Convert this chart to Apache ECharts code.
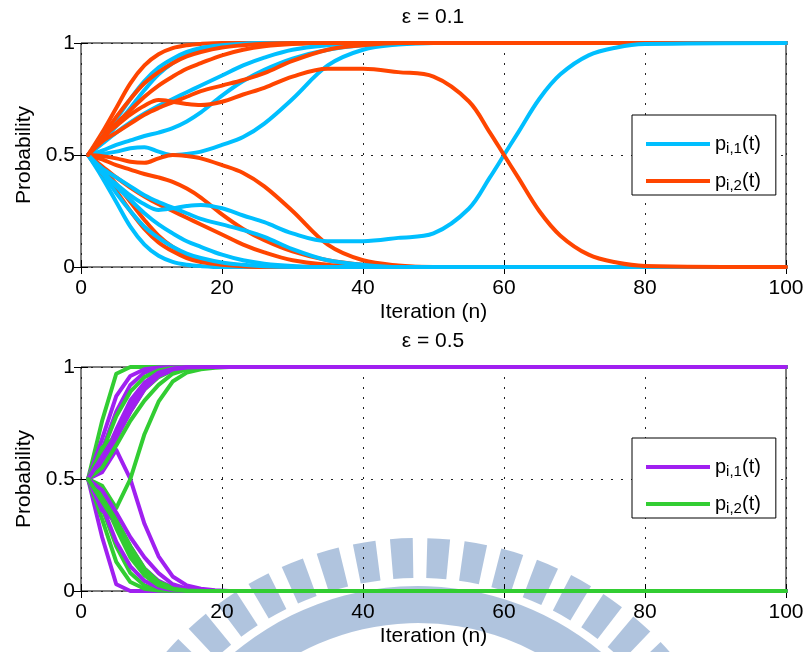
<!DOCTYPE html>
<html>
<head>
<meta charset="utf-8">
<script src="https://cdn.jsdelivr.net/npm/echarts@6/dist/echarts.min.js"></script>
<style>
html, body { margin: 0; padding: 0; background: #fff; }
#chart { width: 808px; height: 652px; }
</style>
</head>
<body>
<div id="chart"></div>
<script>
// ---- ε = 0.1 : iteration samples and per-user channel probabilities ----
const iterTop = [1, 3, 5, 7, 9, 11, 13, 15, 17, 20, 23, 26, 30, 35, 40, 45, 50, 55, 58, 60, 62, 65, 68, 72, 76, 80, 100];

const t1_p1 = [0.5,0.4,0.29,0.18,0.1,0.05,0.023,0.01,0.004,0,0,0,0,0,0,0,0,0,0,0,0,0,0,0,0,0,0];
const t1_p2 = [0.5,0.6,0.71,0.82,0.9,0.95,0.977,0.99,0.996,1,1,1,1,1,1,1,1,1,1,1,1,1,1,1,1,1,1];
const t2_p1 = [0.5,0.58,0.66,0.75,0.83,0.89,0.93,0.96,0.978,0.99,0.997,1,1,1,1,1,1,1,1,1,1,1,1,1,1,1,1];
const t2_p2 = [0.5,0.42,0.34,0.25,0.17,0.11,0.07,0.04,0.022,0.01,0.003,0,0,0,0,0,0,0,0,0,0,0,0,0,0,0,0];
const t3_p1 = [0.5,0.56,0.63,0.71,0.79,0.86,0.91,0.945,0.965,0.985,0.995,1,1,1,1,1,1,1,1,1,1,1,1,1,1,1,1];
const t3_p2 = [0.5,0.44,0.37,0.29,0.21,0.14,0.09,0.055,0.035,0.015,0.005,0,0,0,0,0,0,0,0,0,0,0,0,0,0,0,0];
const t4_p1 = [0.5,0.43,0.36,0.3,0.24,0.19,0.15,0.115,0.09,0.055,0.03,0.015,0.005,0,0,0,0,0,0,0,0,0,0,0,0,0,0];
const t4_p2 = [0.5,0.57,0.64,0.7,0.76,0.81,0.85,0.885,0.91,0.945,0.97,0.985,0.995,1,1,1,1,1,1,1,1,1,1,1,1,1,1];
const t5_p1 = [0.5,0.55,0.6,0.645,0.685,0.72,0.75,0.78,0.81,0.855,0.9,0.935,0.97,0.99,1,1,1,1,1,1,1,1,1,1,1,1,1];
const t5_p2 = [0.5,0.45,0.4,0.355,0.315,0.28,0.25,0.22,0.19,0.145,0.1,0.065,0.03,0.01,0,0,0,0,0,0,0,0,0,0,0,0,0];
const t6_p1 = [0.5,0.52,0.545,0.565,0.585,0.6,0.62,0.65,0.69,0.765,0.83,0.88,0.93,0.97,0.99,0.998,1,1,1,1,1,1,1,1,1,1,1];
const t6_p2 = [0.5,0.48,0.455,0.435,0.415,0.4,0.38,0.35,0.31,0.235,0.17,0.12,0.07,0.03,0.01,0.002,0,0,0,0,0,0,0,0,0,0,0];
const t7_p1 = [0.5,0.505,0.515,0.53,0.535,0.515,0.5,0.505,0.515,0.545,0.58,0.64,0.75,0.9,0.97,0.993,1,1,1,1,1,1,1,1,1,1,1];
const t7_p2 = [0.5,0.495,0.485,0.47,0.465,0.485,0.5,0.495,0.485,0.455,0.42,0.36,0.25,0.1,0.03,0.007,0,0,0,0,0,0,0,0,0,0,0];
const t8_p1 = [0.5,0.42,0.33,0.25,0.18,0.13,0.09,0.06,0.04,0.02,0.01,0.003,0,0,0,0,0,0,0,0,0,0,0,0,0,0,0];
const t8_p2 = [0.5,0.58,0.67,0.75,0.82,0.87,0.91,0.94,0.96,0.98,0.99,0.997,1,1,1,1,1,1,1,1,1,1,1,1,1,1,1];
const t9_p1 = [0.5,0.44,0.4,0.36,0.32,0.29,0.265,0.24,0.215,0.19,0.165,0.135,0.08,0.03,0.01,0,0,0,0,0,0,0,0,0,0,0,0];
const t9_p2 = [0.5,0.56,0.6,0.64,0.68,0.71,0.735,0.76,0.785,0.81,0.835,0.865,0.92,0.97,0.99,1,1,1,1,1,1,1,1,1,1,1,1];
const t10_p1 = [0.5,0.42,0.37,0.32,0.28,0.255,0.262,0.272,0.277,0.262,0.23,0.2,0.15,0.115,0.115,0.13,0.15,0.26,0.4,0.5,0.6,0.75,0.86,0.945,0.98,0.995,1];
const t10_p2 = [0.5,0.58,0.63,0.68,0.72,0.745,0.738,0.728,0.723,0.738,0.77,0.8,0.85,0.885,0.885,0.87,0.85,0.74,0.6,0.5,0.4,0.25,0.14,0.055,0.02,0.005,0];

// ---- ε = 0.5 ----
const iterBot = [1, 3, 5, 7, 9, 11, 13, 15, 17, 19, 21, 100];

const b1_p1 = [0.5,0.24,0.03,0,0,0,0,0,0,0,0,0];
const b1_p2 = [0.5,0.76,0.97,1,1,1,1,1,1,1,1,1];
const b2_p1 = [0.5,0.68,0.87,0.96,0.99,0.998,1,1,1,1,1,1];
const b2_p2 = [0.5,0.32,0.13,0.04,0.01,0.002,0,0,0,0,0,0];
const b3_p1 = [0.5,0.63,0.8,0.92,0.975,0.993,1,1,1,1,1,1];
const b3_p2 = [0.5,0.37,0.2,0.08,0.025,0.007,0,0,0,0,0,0];
const b4_p1 = [0.5,0.38,0.22,0.11,0.045,0.015,0.003,0,0,0,0,0];
const b4_p2 = [0.5,0.62,0.78,0.89,0.955,0.985,0.997,1,1,1,1,1];
const b5_p1 = [0.5,0.58,0.72,0.85,0.93,0.975,0.993,1,1,1,1,1];
const b5_p2 = [0.5,0.42,0.28,0.15,0.07,0.025,0.007,0,0,0,0,0];
const b6_p1 = [0.5,0.36,0.31,0.2,0.1,0.045,0.015,0.004,0,0,0,0];
const b6_p2 = [0.5,0.64,0.69,0.8,0.9,0.955,0.985,0.996,1,1,1,1];
const b7_p1 = [0.5,0.53,0.63,0.5,0.3,0.155,0.065,0.025,0.01,0.003,0,0];
const b7_p2 = [0.5,0.47,0.37,0.5,0.7,0.845,0.935,0.975,0.99,0.997,1,1];
const b8_p1 = [0.5,0.56,0.68,0.8,0.9,0.96,0.985,0.996,1,1,1,1];
const b8_p2 = [0.5,0.44,0.32,0.2,0.1,0.04,0.015,0.004,0,0,0,0];
const b9_p1 = [0.5,0.45,0.35,0.24,0.15,0.08,0.03,0.01,0,0,0,0];
const b9_p2 = [0.5,0.55,0.65,0.76,0.85,0.92,0.97,0.99,1,1,1,1];
const b10_p1 = [0.5,0.6,0.7,0.83,0.92,0.97,0.99,0.998,1,1,1,1];
const b10_p2 = [0.5,0.4,0.3,0.17,0.08,0.03,0.01,0.002,0,0,0,0];

const xTicks = [0, 20, 40, 60, 80, 100];
const yTicks = [0, 0.5, 1];
const titles = ['ε = 0.1', 'ε = 0.5'];

const topUsers = [[t1_p1,t1_p2],[t2_p1,t2_p2],[t3_p1,t3_p2],[t4_p1,t4_p2],[t5_p1,t5_p2],
                  [t6_p1,t6_p2],[t7_p1,t7_p2],[t8_p1,t8_p2],[t9_p1,t9_p2],[t10_p1,t10_p2]];
const botUsers = [[b1_p1,b1_p2],[b2_p1,b2_p2],[b3_p1,b3_p2],[b4_p1,b4_p2],[b5_p1,b5_p2],
                  [b6_p1,b6_p2],[b7_p1,b7_p2],[b8_p1,b8_p2],[b9_p1,b9_p2],[b10_p1,b10_p2]];

const FONT = 'Liberation Sans, Arial, Helvetica, sans-serif';
const colors = {
  top: ['#00BFFF', '#FF4500'],
  bot: ['#A020F0', '#32CD32']
};
const legendNames = {
  top: ['eps01_p1', 'eps01_p2'],
  bot: ['eps05_p1', 'eps05_p2']
};
const legendText = {
  eps01_p1: '{m|p}{s|i,1}{m|(t)}',
  eps01_p2: '{m|p}{s|i,2}{m|(t)}',
  eps05_p1: '{m|p}{s|i,1}{m|(t)}',
  eps05_p2: '{m|p}{s|i,2}{m|(t)}'
};

const grids = [
  { left: 81, top: 43, width: 705, height: 224 },
  { left: 81, top: 367, width: 705, height: 224 }
];

function zip(xs, ys) { return xs.map((x, i) => [x, ys[i]]); }

function lineSeries(name, xs, ys, color, axisIdx, smooth) {
  return {
    type: 'line', name: name,
    xAxisIndex: axisIdx, yAxisIndex: axisIdx,
    data: zip(xs, ys),
    symbol: 'none', smooth: smooth, clip: false,
    lineStyle: { color: color, width: 4, cap: 'round', join: 'round' },
    itemStyle: { color: color },
    emphasis: { disabled: true },
    z: 2
  };
}

const series = [];
topUsers.forEach(u => {
  series.push(lineSeries(legendNames.top[0], iterTop, u[0], colors.top[0], 0, 0.35));
  series.push(lineSeries(legendNames.top[1], iterTop, u[1], colors.top[1], 0, 0.35));
});
botUsers.forEach(u => {
  series.push(lineSeries(legendNames.bot[0], iterBot, u[0], colors.bot[0], 2, false));
  series.push(lineSeries(legendNames.bot[1], iterBot, u[1], colors.bot[1], 2, false));
});

const tickStyle = { inside: true, length: 7, lineStyle: { color: '#000', width: 1 } };
const dotted = { show: true, lineStyle: { color: '#222', width: 1, type: [2, 8] } };

function mainX(gridIndex) {
  return {
    type: 'value', gridIndex, min: xTicks[0], max: xTicks[xTicks.length - 1],
    interval: xTicks[1] - xTicks[0], position: 'bottom',
    name: 'Iteration (n)', nameLocation: 'middle', nameGap: 35,
    nameTextStyle: { fontSize: 21, fontFamily: FONT, color: '#000' },
    axisLine: { show: false }, axisTick: tickStyle,
    axisLabel: { fontSize: 21, fontFamily: FONT, color: '#000', margin: 11 },
    splitLine: dotted
  };
}
function sideX(gridIndex) {
  return {
    type: 'value', gridIndex, min: xTicks[0], max: xTicks[xTicks.length - 1],
    interval: xTicks[1] - xTicks[0], position: 'top',
    axisLine: { show: false }, axisTick: tickStyle,
    axisLabel: { show: false }, splitLine: { show: false }
  };
}
function mainY(gridIndex) {
  return {
    type: 'value', gridIndex, min: yTicks[0], max: yTicks[yTicks.length - 1],
    interval: yTicks[1] - yTicks[0], position: 'left',
    name: 'Probability', nameLocation: 'middle', nameGap: 46,
    nameTextStyle: { fontSize: 21, fontFamily: FONT, color: '#000' },
    axisLine: { show: false }, axisTick: tickStyle,
    axisLabel: { fontSize: 21, fontFamily: FONT, color: '#000', margin: 6 },
    splitLine: dotted
  };
}
function sideY(gridIndex) {
  return {
    type: 'value', gridIndex, min: yTicks[0], max: yTicks[yTicks.length - 1],
    interval: yTicks[1] - yTicks[0], position: 'right',
    axisLine: { show: false }, axisTick: tickStyle,
    axisLabel: { show: false }, splitLine: { show: false }
  };
}

function legendFor(key, top) {
  return {
    data: legendNames[key], orient: 'vertical', left: 632, top: top,
    icon: 'rect', itemWidth: 64, itemHeight: 4, itemGap: -1,
    padding: [3, 15, 2, 14],
    borderColor: '#000', borderWidth: 1, backgroundColor: '#fff',
    selectedMode: false,
    formatter: name => legendText[name],
    textStyle: {
      rich: {
        m: { fontSize: 20, fontFamily: FONT, color: '#000', lineHeight: 24, verticalAlign: 'middle' },
        s: { fontSize: 15, fontFamily: FONT, color: '#000', lineHeight: 15, padding: [23, 0, 0, 0], verticalAlign: 'bottom' }
      }
    },
    z: 10
  };
}

// Emblem watermark: a fan of radial teeth above a curved band
const emblem = { cx: 418, cy: 873, toothR0: 295, toothR: 335, bandR0: 250, bandR: 287, from: -178, to: -2, pitch: 6.4, span: 3.9 };
const emblemParts = [];
for (let a = emblem.from; a + emblem.span <= emblem.to; a += emblem.pitch) {
  emblemParts.push({
    type: 'sector',
    shape: { cx: emblem.cx, cy: emblem.cy, r0: emblem.toothR0, r: emblem.toothR,
             startAngle: a * Math.PI / 180, endAngle: (a + emblem.span) * Math.PI / 180 },
    style: { fill: 'rgb(97,137,189)', opacity: 0.5 }
  });
}
emblemParts.push({
  type: 'sector',
  shape: { cx: emblem.cx, cy: emblem.cy, r0: emblem.bandR0, r: emblem.bandR,
           startAngle: emblem.from * Math.PI / 180, endAngle: emblem.to * Math.PI / 180 },
  style: { fill: 'rgb(97,137,189)', opacity: 0.5 }
});

const chart = echarts.init(document.getElementById('chart'), null, { renderer: 'canvas' });
chart.setOption({
  animation: false,
  backgroundColor: '#fff',
  title: [
    { text: titles[0], left: 433, top: 7, textAlign: 'center', padding: 0,
      textStyle: { fontSize: 21, fontWeight: 'normal', fontFamily: FONT, color: '#000' } },
    { text: titles[1], left: 433, top: 331, textAlign: 'center', padding: 0,
      textStyle: { fontSize: 21, fontWeight: 'normal', fontFamily: FONT, color: '#000' } }
  ],
  grid: grids.map(g => Object.assign({ show: true, borderColor: '#000', borderWidth: 1, backgroundColor: '#fff' }, g)),
  xAxis: [mainX(0), sideX(0), mainX(1), sideX(1)],
  yAxis: [mainY(0), sideY(0), mainY(1), sideY(1)],
  legend: [legendFor('top', 115), legendFor('bot', 438)],
  series: series,
  graphic: [{
    type: 'group', silent: true, z: 100,
    children: emblemParts
  }]
});
</script>
</body>
</html>
